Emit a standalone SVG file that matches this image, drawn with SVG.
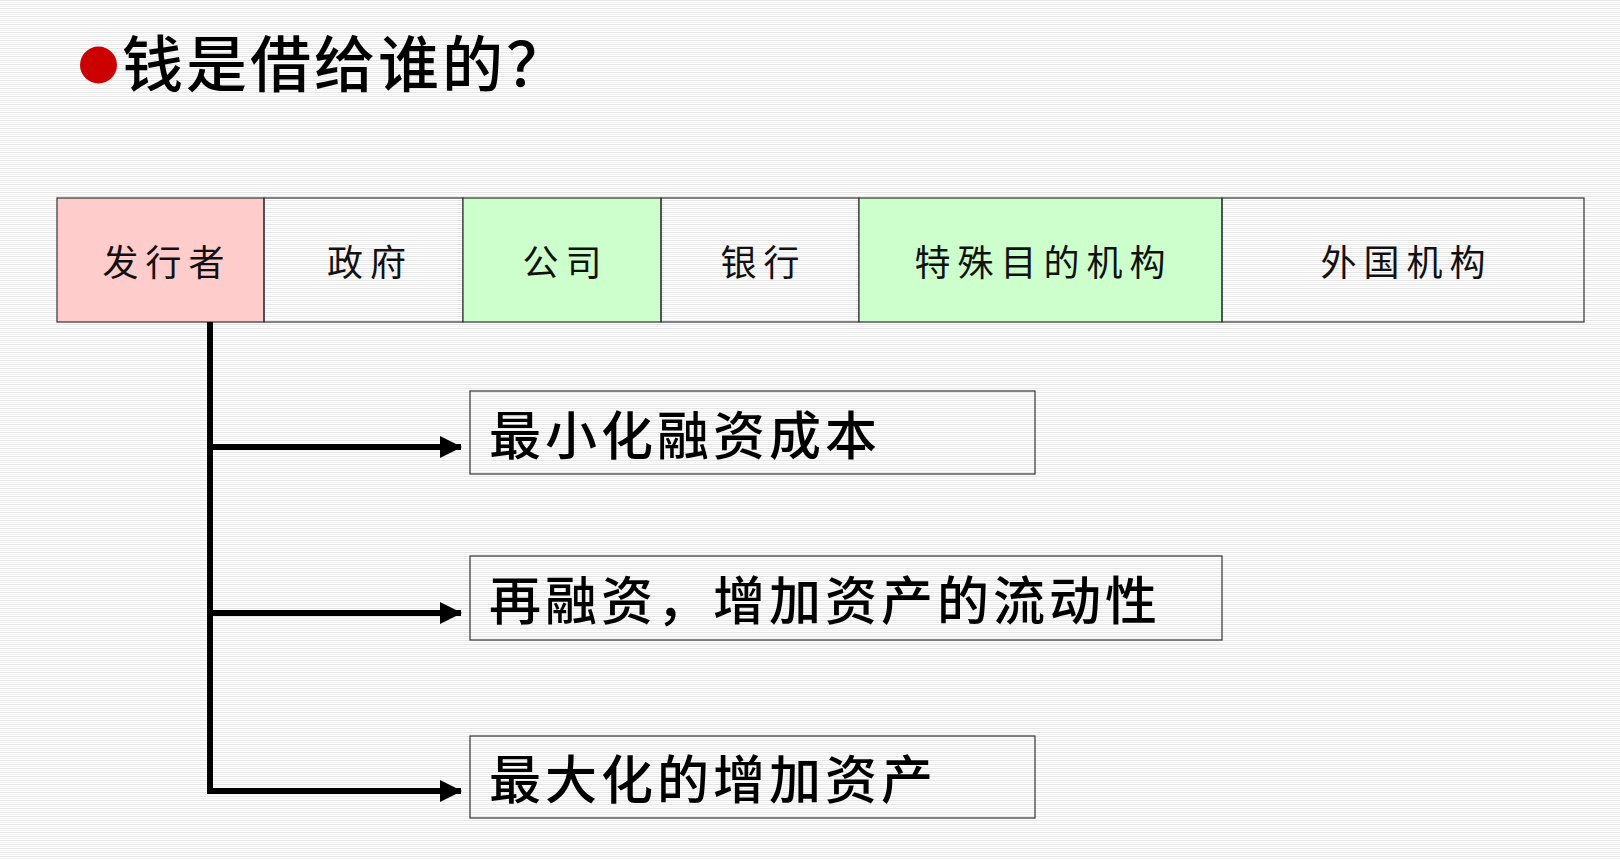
<svg xmlns="http://www.w3.org/2000/svg" width="1620" height="860" viewBox="0 0 1620 860">
  <defs>
    <pattern id="stripes" width="8" height="4" patternUnits="userSpaceOnUse">
      <rect width="8" height="4" fill="#ffffff"/>
      <rect y="0" width="8" height="1" fill="#e4e4e4"/>
      <rect y="2" width="8" height="1" fill="#f1f1f1"/>
    </pattern>
    <marker id="arrow" markerWidth="22" markerHeight="22" refX="21" refY="11" orient="auto" markerUnits="userSpaceOnUse" viewBox="0 0 22 22" overflow="visible">
      <path d="M0,0 L22,11 L0,22 Z" fill="#000"/>
    </marker>
    <style>
      .cell { stroke: #333333; stroke-width: 1.2; }
      .cell-text { font-family: "Noto Sans CJK SC", "Liberation Sans", sans-serif; font-size: 36px; fill: #111; text-anchor: middle; dominant-baseline: central; letter-spacing: 7px; }
      .box { fill: none; stroke: #333333; stroke-width: 1.2; }
      .box-text { font-family: "Noto Sans CJK SC", "Liberation Sans", sans-serif; font-size: 52px; font-weight: 500; fill: #000; dominant-baseline: central; letter-spacing: 4px; }
      .conn { fill: none; stroke: #000; stroke-width: 6; }
      .title { font-family: "Noto Sans CJK SC", "Liberation Sans", sans-serif; font-size: 61px; font-weight: 500; fill: #000; letter-spacing: 3px; }
    </style>
  </defs>
  <rect width="1620" height="860" fill="url(#stripes)"/>

  <g id="title">
    <circle cx="98.5" cy="65" r="18.5" fill="#cc0000"/>
    <text class="title" x="122" y="87">钱是借给谁的？</text>
  </g>

  <g id="issuer">
    <rect class="cell" x="57" y="198" width="207" height="124" fill="#ffcccc"/>
    <text class="cell-text" x="167" y="260">发行者</text>
  </g>
  <g id="government">
    <rect class="cell" x="264" y="198" width="199" height="124" fill="none"/>
    <text class="cell-text" x="370" y="260">政府</text>
  </g>
  <g id="company">
    <rect class="cell" x="463" y="198" width="198" height="124" fill="#ccffcc"/>
    <text class="cell-text" x="565.5" y="260">公司</text>
  </g>
  <g id="bank">
    <rect class="cell" x="661" y="198" width="198" height="124" fill="none"/>
    <text class="cell-text" x="763.5" y="260">银行</text>
  </g>
  <g id="spv">
    <rect class="cell" x="859" y="198" width="363" height="124" fill="#ccffcc"/>
    <text class="cell-text" x="1043.5" y="260">特殊目的机构</text>
  </g>
  <g id="foreign">
    <rect class="cell" x="1222" y="198" width="362" height="124" fill="none"/>
    <text class="cell-text" x="1406.5" y="260">外国机构</text>
  </g>

  <g id="connectors">
    <path class="conn" d="M210,322 L210,791 L461,791" marker-end="url(#arrow)"/>
    <path class="conn" d="M210,447 L461,447" marker-end="url(#arrow)"/>
    <path class="conn" d="M210,613 L461,613" marker-end="url(#arrow)"/>
  </g>

  <g id="goal1">
    <rect class="box" x="470" y="391" width="565" height="83"/>
    <text class="box-text" x="489" y="432">最小化融资成本</text>
  </g>
  <g id="goal2">
    <rect class="box" x="470" y="556" width="752" height="84"/>
    <text class="box-text" x="489" y="597">再融资，增加资产的流动性</text>
  </g>
  <g id="goal3">
    <rect class="box" x="470" y="736" width="565" height="82"/>
    <text class="box-text" x="489" y="776">最大化的增加资产</text>
  </g>
</svg>
